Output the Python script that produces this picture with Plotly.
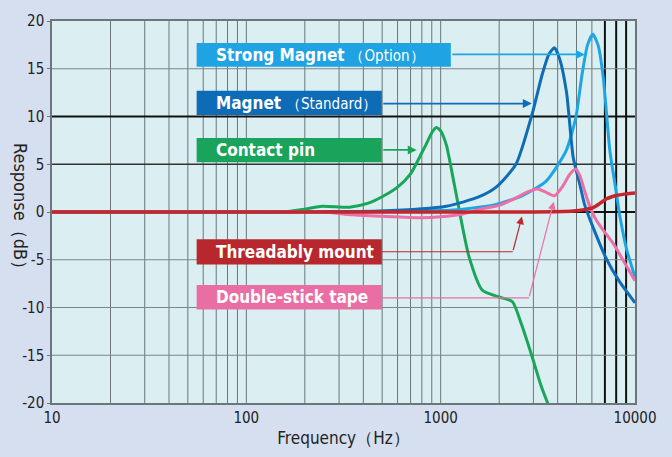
import math
import plotly.graph_objects as go

# ---------------- data ----------------
freq_strong = [10, 100, 500, 1000, 1300, 1930, 2620, 3480, 4420, 4960, 5340, 5700, 6070, 6450, 6855, 7430, 7890, 8360, 9050, 10000]
resp_strong = [0, 0, 0.05, 0.15, 0.3, 0.8, 1.7, 3.2, 6.4, 9.9, 14.4, 17.5, 18.6, 17.5, 14.2, 6.35, 2.9, -0.45, -3.9, -6.8]

freq_magnet = [10, 100, 480, 1070, 1580, 1930, 2440, 2950, 3330, 3600, 3850, 4100, 4445, 4810, 5200, 5500, 6000, 7140, 8360, 10000]
resp_magnet = [0, 0, 0.1, 0.6, 1.6, 2.6, 5.0, 10.2, 14.4, 16.5, 17.2, 16.0, 12.5, 5.7, 2.9, 0.8, -1.3, -4.95, -7.35, -9.5]

freq_pin = [10, 100, 150, 200, 246, 340, 420, 500, 600, 700, 800, 843, 900, 950, 1000, 1070, 1175, 1400, 1640, 2000, 2340, 2600, 2950, 3300, 3800]
resp_pin = [0, 0, 0, 0.3, 0.6, 0.5, 0.9, 1.6, 2.6, 4.0, 6.2, 7.1, 8.3, 8.85, 8.5, 7.0, 2.9, -4.7, -8.2, -8.9, -9.4, -11.7, -15.1, -18.3, -21.5]

freq_thread = [10, 100, 1000, 3000, 4810, 5500, 6095, 6600, 7140, 7600, 8000, 9050, 10000]
resp_thread = [0, 0, 0, 0, 0.1, 0.25, 0.46, 0.9, 1.39, 1.6, 1.73, 1.9, 2.0]

freq_tape = [10, 100, 250, 350, 500, 800, 1000, 1300, 1600, 2000, 2400, 2800, 3150, 3450, 3850, 4250, 4600, 4950, 5200, 5450, 5800, 6300, 7100, 7730, 8600, 10000]
resp_tape = [0, 0, 0, -0.3, -0.45, -0.6, -0.5, -0.2, 0.3, 0.7, 1.4, 2.1, 2.4, 2.1, 1.7, 2.7, 3.9, 4.5, 3.8, 2.5, 0.8, -0.8, -2.3, -3.3, -4.9, -7.2]

x_tickvals = [10, 100, 1000, 10000]
x_ticktext = ["10", "100", "1000", "10000"]
y_tickvals = [-20, -15, -10, -5, 0, 5, 10, 15, 20]
y_ticktext = ["-20", "-15", "-10", "-5", "0", "5", "10", "15", "20"]

# label boxes: (text html, colour, left Hz, right Hz, bottom dB, top dB)
labels = [
    ("<b>Strong Magnet</b> <span style='font-size:15px'>（Option）</span>", "#1fa3e2", 55.5, 1128, 15.2, 17.7),
    ("<b>Magnet</b> <span style='font-size:15px'>（Standard）</span>", "#0d6cb5", 55.5, 498, 10.15, 12.7),
    ("<b>Contact pin</b>", "#1aa35a", 55.5, 498, 5.2, 7.75),
    ("<b>Threadably mount</b>", "#b8272e", 55.5, 498, -5.5, -2.85),
    ("<b>Double-stick tape</b>", "#e96ea3", 55.5, 498, -10.2, -7.65),
]

C_STRONG = "#1ea5e3"
C_MAGNET = "#0e6db6"
C_PIN = "#18a65a"
C_THREAD = "#c1272d"
C_TAPE = "#ec6fa5"
PAGE_BG = "#d5dff0"

L = math.log10
FONT = "DejaVu Sans Condensed, Liberation Sans, sans-serif"

fig = go.Figure()


def add_lines(segments, color, width):
    xs, ys = [], []
    for (x0, y0, x1, y1) in segments:
        xs += [x0, x1, None]
        ys += [y0, y1, None]
    fig.add_trace(go.Scatter(x=xs, y=ys, mode="lines", line=dict(color=color, width=width),
                             showlegend=False, hoverinfo="skip"))


# grid (drawn as traces beneath the curves)
gray_v, black_v = [], []
for d in [10, 100, 1000]:
    for m in range(1, 10):
        f = m * d
        if f == 10:
            continue
        (black_v if f in (7000, 8000, 9000) else gray_v).append((f, -20, f, 20))
add_lines(gray_v, "#6a7678", 1)
add_lines(black_v, "#111111", 2)
add_lines([(10, yv, 10000, yv) for yv in (-15, -10, -5, 15)], "#7a8688", 1.2)
add_lines([(10, 5, 10000, 5)], "#333333", 1.5)
add_lines([(10, yv, 10000, yv) for yv in (0, 10)], "#111111", 2)

for f, v, c, w in [
    (freq_pin, resp_pin, C_PIN, 3),
    (freq_strong, resp_strong, C_STRONG, 3),
    (freq_magnet, resp_magnet, C_MAGNET, 3),
    (freq_tape, resp_tape, C_TAPE, 3),
    (freq_thread, resp_thread, C_THREAD, 3.5),
]:
    fig.add_trace(go.Scatter(x=f, y=v, mode="lines", line=dict(color=c, width=w, shape="spline", smoothing=0.6),
                             showlegend=False, hoverinfo="skip"))

annotations = []
for text, col, fl, fr, yb, yt in labels:
    fig.add_trace(go.Scatter(x=[fl, fr, fr, fl, fl], y=[yb, yb, yt, yt, yb], mode="lines", fill="toself",
                             fillcolor=col, line=dict(width=0, color=col), showlegend=False, hoverinfo="skip"))
    annotations.append(dict(x=L(fl), y=(yb + yt) / 2, xref="x", yref="y", xanchor="left", yanchor="middle",
                            xshift=17, text=text, showarrow=False,
                            font=dict(family=FONT, size=17, color="white")))

# connector lines (horizontal parts of bent arrows)
add_lines([(498, -4.16, 2350, -4.16)], C_THREAD, 1.2)
add_lines([(498, -9.0, 2845, -9.0)], C_TAPE, 1.2)

arrows = [
    (1128, 16.5, 5520, 16.5, C_STRONG, 1.8),
    (498, 11.35, 2945, 11.35, C_MAGNET, 1.8),
    (498, 6.5, 753, 6.5, C_PIN, 1.8),
    (2350, -4.16, 2620, -0.46, C_THREAD, 1.2),
    (2845, -9.0, 3820, 1.08, C_TAPE, 1.2),
]
for f0, y0, f1, y1, col, wd in arrows:
    annotations.append(dict(x=L(f1), y=y1, ax=L(f0), ay=y0, xref="x", yref="y", axref="x", ayref="y",
                            text="", showarrow=True, arrowhead=2, arrowsize=1.3 if wd < 1.5 else 1.0,
                            arrowwidth=wd, arrowcolor=col))

annotations.append(dict(x=-0.053, y=0.505, xref="paper", yref="paper", text="Response（dB）", textangle=90,
                        showarrow=False, xanchor="center", yanchor="middle",
                        font=dict(family=FONT, size=18, color="#222222")))

fig.update_layout(
    width=672, height=457,
    margin=dict(l=52, r=37, t=13, b=54),
    paper_bgcolor=PAGE_BG,
    plot_bgcolor="#dbeff2",
    annotations=annotations,
    font=dict(family=FONT, size=15, color="#222222"),
    xaxis=dict(type="log", range=[1, 4], tickvals=x_tickvals, ticktext=x_ticktext, showgrid=False,
               zeroline=False, showline=True, mirror=True, linecolor="#6a7678", linewidth=1.5,
               ticks="", title=dict(text="Frequency（Hz）", standoff=6, font=dict(size=17))),
    yaxis=dict(range=[-20, 20], tickvals=y_tickvals, ticktext=y_ticktext, showgrid=False, zeroline=False,
               showline=True, mirror=True, linecolor="#6a7678", linewidth=1.5, ticks="outside", ticklen=3,
               tickcolor="#6a7678"),
)

fig.write_html("out.html", config={"displayModeBar": False},
               post_script="document.body.style.margin='0';document.body.style.background='%s';" % PAGE_BG)
